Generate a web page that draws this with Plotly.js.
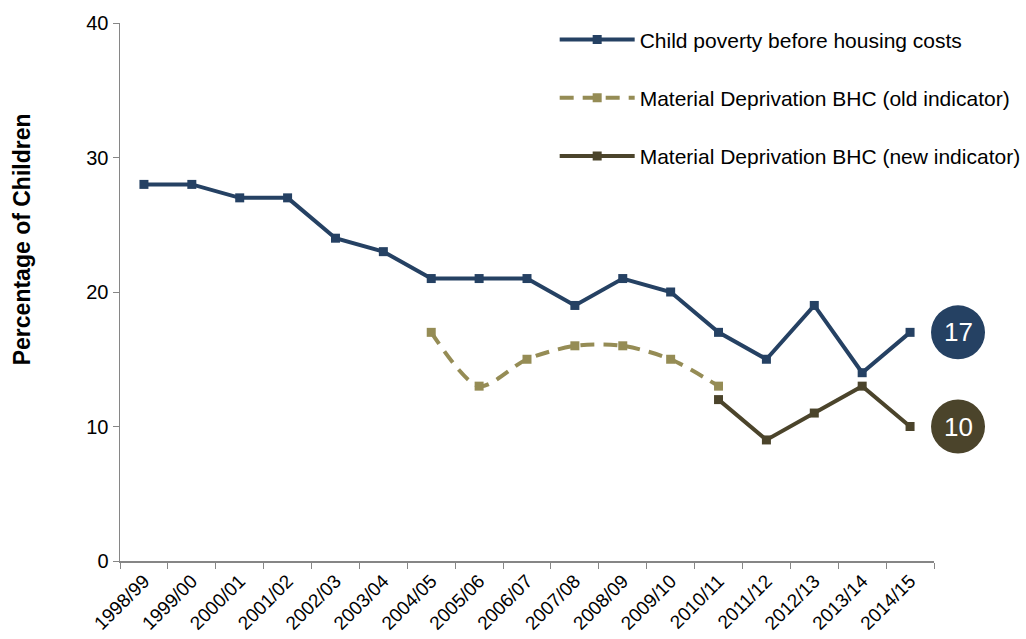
<!DOCTYPE html>
<html><head><meta charset="utf-8">
<script src="https://cdn.plot.ly/plotly-3.0.1.min.js"></script>
<style>body{margin:0;background:#fff}#chart{width:1026px;height:639px}</style>
</head><body><div id="chart"></div>
<script>
const years = ["1998/99","1999/00","2000/01","2001/02","2002/03","2003/04","2004/05","2005/06","2006/07","2007/08","2008/09","2009/10","2010/11","2011/12","2012/13","2013/14","2014/15"];
const childPoverty = [28,28,27,27,24,23,21,21,21,19,21,20,17,15,19,14,17];
const oldYears = ["2004/05","2005/06","2006/07","2007/08","2008/09","2009/10","2010/11"];
const oldDeprivation = [17,13,15,16,16,15,13];
const newYears = ["2010/11","2011/12","2012/13","2013/14","2014/15"];
const newDeprivation = [12,9,11,13,10];
const names = ["Child poverty before housing costs","Material Deprivation BHC (old indicator)","Material Deprivation BHC (new indicator)"];
const yTitle = "Percentage of Children";
const colBlue = "#254163", colOld = "#958C55", colNew = "#4B442B";

const font = "Liberation Sans, Arial, sans-serif";
const traces = [
  {x: years, y: childPoverty, name: names[0], type: "scatter", mode: "lines+markers",
   line: {color: colBlue, width: 4}, marker: {symbol: "square", size: 9, color: colBlue}, legendgroup: "a"},
  {x: oldYears, y: oldDeprivation, name: names[1], type: "scatter", mode: "lines+markers",
   line: {color: colOld, width: 4, dash: "14px,9px", shape: "spline", smoothing: 0.8}, marker: {symbol: "square", size: 9, color: colOld}, legendgroup: "b"},
  {x: newYears, y: newDeprivation, name: names[2], type: "scatter", mode: "lines+markers",
   line: {color: colNew, width: 4}, marker: {symbol: "square", size: 9, color: colNew}, legendgroup: "c"}
];
const lastBlue = childPoverty[childPoverty.length-1];
const lastNew = newDeprivation[newDeprivation.length-1];
const cx = 1.0295;
const layout = {
  width: 1026, height: 639,
  margin: {l: 120, r: 92, t: 23, b: 78, autoexpand: false},
  paper_bgcolor: "#fff", plot_bgcolor: "#fff",
  font: {family: font, size: 20, color: "#000"},
  showlegend: true,
  legend: {x: 0.534, y: 1.007, xanchor: "left", yanchor: "top", traceorder: "grouped", tracegroupgap: 28,
           itemwidth: 75, font: {family: font, size: 21, color: "#000"}, bgcolor: "rgba(0,0,0,0)"},
  xaxis: {type: "category", categoryorder: "array", categoryarray: years, range: [-0.5, 16.5],
          showline: true, linecolor: "#868686", linewidth: 1.5, ticks: "outside", ticklen: 6, tickcolor: "#868686",
          tickson: "boundaries", tickangle: -45, showgrid: false, zeroline: false,
          tickfont: {family: font, size: 19}},
  yaxis: {range: [0, 40], dtick: 10, showline: true, linecolor: "#868686", linewidth: 1.5, ticks: "outside",
          ticklen: 6, tickcolor: "#868686", showgrid: false, zeroline: false,
          tickfont: {family: font, size: 20}},
  shapes: [
    {type: "circle", xref: "paper", yref: "y", xsizemode: "pixel", ysizemode: "pixel", xanchor: cx, yanchor: lastBlue,
     x0: -27, x1: 27, y0: -27, y1: 27, fillcolor: colBlue, line: {width: 0}},
    {type: "circle", xref: "paper", yref: "y", xsizemode: "pixel", ysizemode: "pixel", xanchor: cx, yanchor: lastNew,
     x0: -27, x1: 27, y0: -27, y1: 27, fillcolor: colNew, line: {width: 0}}
  ],
  annotations: [
    {xref: "paper", yref: "paper", x: -0.1204, y: 0.598, xanchor: "center", yanchor: "middle", textangle: -90,
     text: "<b>" + yTitle + "</b>", showarrow: false, font: {family: font, size: 23, color: "#000"}},
    {xref: "paper", yref: "y", x: cx, y: lastBlue, xanchor: "center", yanchor: "middle", text: String(lastBlue), showarrow: false, font: {family: font, size: 26, color: "#fff"}},
    {xref: "paper", yref: "y", x: cx, y: lastNew, xanchor: "center", yanchor: "middle", text: String(lastNew), showarrow: false, font: {family: font, size: 26, color: "#fff"}}
  ]
};
Plotly.newPlot("chart", traces, layout, {displayModeBar: false, staticPlot: true});
</script></body></html>
